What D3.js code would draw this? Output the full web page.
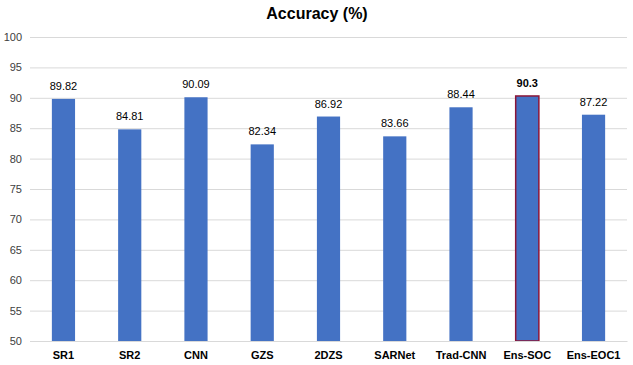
<!DOCTYPE html>
<html><head><meta charset="utf-8">
<script src="https://cdn.jsdelivr.net/npm/d3@7"></script>
<style>html,body{margin:0;padding:0;background:#fff;}</style>
</head><body>
<svg id="chart" width="633" height="365"></svg>
<script>
const categories = ["SR1","SR2","CNN","GZS","2DZS","SARNet","Trad-CNN","Ens-SOC","Ens-EOC1"];
const values = [89.82,84.81,90.09,82.34,86.92,83.66,88.44,90.3,87.22];
const valueLabels = ["89.82","84.81","90.09","82.34","86.92","83.66","88.44","90.3","87.22"];
const yTicks = [50,55,60,65,70,75,80,85,90,95,100];
const highlight = "Ens-SOC";

const svg = d3.select("#chart");
const font = "'Liberation Sans', Arial, sans-serif";
const x = d3.scaleBand().domain(categories).range([30, 627]).paddingInner(0.65).paddingOuter(0.33);
const y = d3.scaleLinear().domain([50,100]).range([341, 37]);

svg.append("text").attr("x", 317).attr("y", 19).attr("text-anchor","middle")
  .attr("font-family", font).attr("font-weight","bold").attr("font-size", 16).attr("fill","#000")
  .text("Accuracy (%)");

const yAxis = svg.append("g").attr("transform","translate(30,0)")
  .call(d3.axisLeft(y).tickValues(yTicks).tickSize(-597).tickPadding(8));
yAxis.select(".domain").remove();
yAxis.selectAll(".tick line").attr("stroke","#d9d9d9");
yAxis.selectAll(".tick text").attr("font-family", font).attr("font-size", 11).attr("fill","#404040");

svg.selectAll("rect.bar").data(categories).enter().append("rect")
  .attr("class","bar")
  .attr("x", d => x(d)).attr("width", x.bandwidth())
  .attr("y", (d,i) => y(values[i])).attr("height", (d,i) => y(50) - y(values[i]))
  .attr("fill", "#4472C4")
  .attr("stroke", d => d === highlight ? "#8B1538" : "none")
  .attr("stroke-width", d => d === highlight ? 1.5 : 0);

svg.selectAll("text.val").data(categories).enter().append("text")
  .attr("class","val")
  .attr("x", d => x(d) + x.bandwidth()/2)
  .attr("y", (d,i) => y(values[i]) - 9)
  .attr("text-anchor","middle").attr("font-family", font).attr("font-size", 11)
  .attr("font-weight", d => d === highlight ? "bold" : "normal")
  .attr("fill","#000")
  .text((d,i) => valueLabels[i]);

const xAxis = svg.append("g").attr("transform","translate(0,341)")
  .call(d3.axisBottom(x).tickSize(0).tickPadding(10));
xAxis.select(".domain").attr("stroke","#d9d9d9");
xAxis.selectAll(".tick text").attr("font-family", font).attr("font-size", 11)
  .attr("font-weight","bold").attr("fill","#000");
</script>
</body></html>
